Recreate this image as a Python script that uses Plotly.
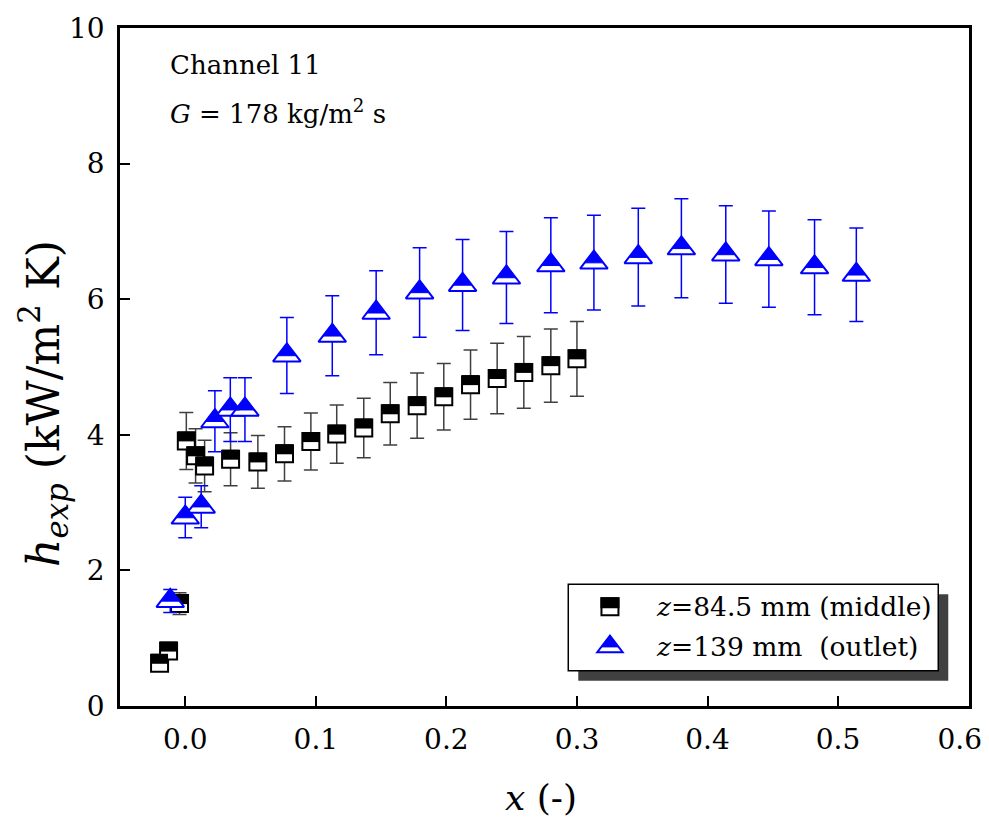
import math
import plotly.graph_objects as go

# ---------------- data ----------------
sq_x = [-0.0197, -0.0128, -0.0044, 0.0008, 0.0079, 0.0148, 0.0347, 0.0556, 0.0760, 0.0962,
        0.116, 0.1367, 0.157, 0.1776, 0.198, 0.2185, 0.2389, 0.2593, 0.280, 0.300]
sq_y = [0.63, 0.81, 1.51, 3.91, 3.69, 3.54, 3.64, 3.60, 3.72, 3.90,
        4.01, 4.10, 4.31, 4.43, 4.56, 4.74, 4.83, 4.92, 5.02, 5.12]
sq_err = [0.08, 0.09, 0.16, 0.42, 0.40, 0.38, 0.39, 0.39, 0.40, 0.42,
          0.43, 0.44, 0.46, 0.48, 0.49, 0.51, 0.52, 0.53, 0.54, 0.55]

tri_x = [-0.0115, 0.0, 0.0122, 0.0227, 0.0345, 0.0457, 0.0778, 0.1126, 0.1462, 0.1795,
         0.2124, 0.246, 0.280, 0.313, 0.347, 0.380, 0.414, 0.447, 0.482, 0.514]
tri_y = [1.55, 2.78, 2.94, 4.20, 4.37, 4.37, 5.17, 5.46, 5.80, 6.10,
         6.21, 6.32, 6.50, 6.54, 6.62, 6.75, 6.66, 6.59, 6.47, 6.36]
tri_err = [0.17, 0.30, 0.31, 0.45, 0.47, 0.47, 0.56, 0.59, 0.62, 0.66,
           0.67, 0.68, 0.70, 0.70, 0.72, 0.73, 0.72, 0.71, 0.70, 0.69]

x_ticks = [0.0, 0.1, 0.2, 0.3, 0.4, 0.5, 0.6]
# last label padded so it stays inside the page edge
x_ticktext = ["0.0", "0.1", "0.2", "0.3", "0.4", "0.5", "0.6\u00a0\u00a0"]
y_ticks = [0, 2, 4, 6, 8, 10]

label_mid = "<i>z</i>=84.5 mm (middle)"
label_out = "<i>z</i>=139 mm \u00a0(outlet)"
note1 = "Channel 11"
note2 = "<i>G</i> = 178 kg/m<sup>2</sup> s"
x_title = "<i>x</i> (-)"
y_title = "<i>h</i><sub><i>exp</i></sub> (kW/m<sup>2</sup> K)"

# ---------------- style ----------------
FONT = "DejaVu Serif"
BLUE = "#0000FF"
SQ = 17          # square marker size
SQ_LW = 2
TRI = 24         # triangle marker size
TRI_LW = 2
K = 0.68         # filled fraction of triangle (apex part)

fig = go.Figure()

# squares: hollow base + filled top half
fig.add_trace(go.Scatter(
    x=sq_x, y=sq_y, mode="markers",
    marker=dict(symbol="square", size=SQ, color="white",
                line=dict(color="black", width=SQ_LW)),
    error_y=dict(type="data", array=sq_err, visible=True,
                 color="#404040", thickness=1.5, width=7),
    showlegend=False, hoverinfo="skip"))
band = SQ / 2 + SQ_LW / 2 + 0.5
fig.add_trace(go.Scatter(
    x=sq_x, y=sq_y, mode="markers",
    marker=dict(symbol="line-ew", size=SQ / 1.4, color="black", angle=180,
                standoff=band / 2 - 0.5,
                line=dict(color="black", width=band)),
    showlegend=False, hoverinfo="skip"))

# triangles: hollow base + filled apex part
fig.add_trace(go.Scatter(
    x=tri_x, y=tri_y, mode="markers",
    marker=dict(symbol="triangle-up", size=TRI, color="white",
                line=dict(color=BLUE, width=TRI_LW)),
    error_y=dict(type="data", array=tri_err, visible=True,
                 color=BLUE, thickness=1.5, width=7),
    showlegend=False, hoverinfo="skip"))
r = TRI / 2
fig.add_trace(go.Scatter(
    x=tri_x, y=tri_y, mode="markers",
    marker=dict(symbol="triangle-down", size=TRI * K, color=BLUE, angle=180,
                standoff=r * (1 - K),
                line=dict(color=BLUE, width=1)),
    showlegend=False, hoverinfo="skip"))

# ---------------- custom legend ----------------
L_X0, L_X1, L_Y0, L_Y1 = 0.528, 0.9638, 0.0521, 0.1795
SH = 10  # shadow offset px
plot_w, plot_h = 849, 678
shapes = [
    dict(type="rect", xref="paper", yref="paper", layer="above",
         x0=L_X0 + SH / plot_w, x1=L_X1 + SH / plot_w,
         y0=L_Y0 - SH / plot_h, y1=L_Y1 - SH / plot_h,
         fillcolor="#404040", line=dict(width=0)),
    dict(type="rect", xref="paper", yref="paper", layer="above",
         x0=L_X0, x1=L_X1, y0=L_Y0, y1=L_Y1,
         fillcolor="white", line=dict(color="black", width=1.5)),
]
sym_x = 0.5771
row1, row2 = 0.1465, 0.0875
h = SQ / 2
shapes.append(dict(type="rect", xref="paper", yref="paper", layer="above",
                   xsizemode="pixel", ysizemode="pixel", xanchor=sym_x, yanchor=row1,
                   x0=-h, x1=h, y0=-h, y1=h, fillcolor="white",
                   line=dict(color="black", width=SQ_LW)))
shapes.append(dict(type="rect", xref="paper", yref="paper", layer="above",
                   xsizemode="pixel", ysizemode="pixel", xanchor=sym_x, yanchor=row1,
                   x0=-h, x1=h, y0=-0.5, y1=h, fillcolor="black",
                   line=dict(color="black", width=SQ_LW)))
rl = 11
rt = rl * 2 / math.sqrt(3)
shapes.append(dict(type="path", xref="paper", yref="paper", layer="above",
                   xsizemode="pixel", ysizemode="pixel", xanchor=sym_x, yanchor=row2,
                   path=f"M {-rt:.2f},{-rl/2:.2f} L {rt:.2f},{-rl/2:.2f} L 0,{rl:.2f} Z",
                   fillcolor="white", line=dict(color=BLUE, width=TRI_LW)))
yb = rl - K * 1.5 * rl
shapes.append(dict(type="path", xref="paper", yref="paper", layer="above",
                   xsizemode="pixel", ysizemode="pixel", xanchor=sym_x, yanchor=row2,
                   path=f"M {-K*rt:.2f},{yb:.2f} L {K*rt:.2f},{yb:.2f} L 0,{rl:.2f} Z",
                   fillcolor=BLUE, line=dict(color=BLUE, width=1)))

annotations = [
    dict(text=label_mid, xref="paper", yref="paper", x=0.6293, y=row1,
         xanchor="left", yanchor="middle", showarrow=False,
         font=dict(family=FONT, size=26.5, color="black")),
    dict(text=label_out, xref="paper", yref="paper", x=0.6293, y=row2,
         xanchor="left", yanchor="middle", showarrow=False,
         font=dict(family=FONT, size=26.5, color="black")),
    dict(text=note1, xref="paper", yref="paper", x=0.0565, y=0.9447,
         xanchor="left", yanchor="middle", showarrow=False,
         font=dict(family=FONT, size=26, color="black")),
    dict(text=note2, xref="paper", yref="paper", x=0.0565, y=0.876,
         xanchor="left", yanchor="middle", showarrow=False,
         font=dict(family=FONT, size=26, color="black")),
    dict(text=y_title, xref="paper", yref="paper", x=-0.0907, y=0.447,
         xanchor="center", yanchor="middle", textangle=-90, showarrow=False,
         font=dict(family=FONT, size=44, color="black")),
    dict(text=x_title, xref="paper", yref="paper", x=0.4959, y=-0.1355,
         xanchor="center", yanchor="middle", showarrow=False,
         font=dict(family=FONT, size=36, color="black")),
]

axis_common = dict(showgrid=False, zeroline=False, showline=True, linecolor="black",
                   linewidth=2.5, mirror=True, ticks="inside", ticklen=10, tickwidth=1.5,
                   tickcolor="black", automargin=False, ticklabeloverflow="allow",
                   tickfont=dict(family=FONT, size=28, color="black"))

# page body has an 8px margin: figure sized/margined so the plot area lands at 120..969 x 28..706
fig.update_layout(
    width=981, height=809,
    margin=dict(l=112, r=20, t=20, b=111),
    paper_bgcolor="white", plot_bgcolor="white",
    showlegend=False,
    shapes=shapes, annotations=annotations,
    xaxis=dict(range=[-0.05, 0.6003], tickvals=x_ticks, ticktext=x_ticktext,
               ticklabelstandoff=7, **axis_common),
    yaxis=dict(range=[0, 10], tickvals=y_ticks, ticklabelstandoff=7,
               **axis_common),
)

fig.write_html("out.html")
